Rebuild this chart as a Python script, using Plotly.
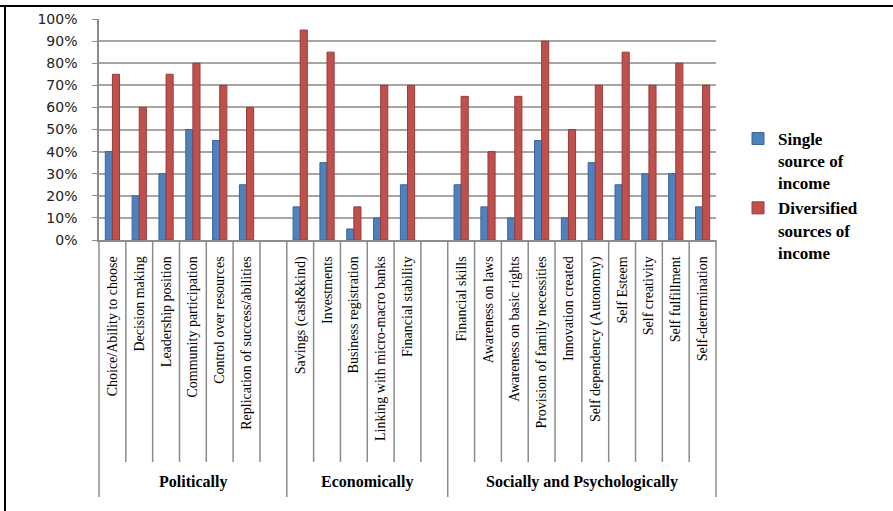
import plotly.graph_objects as go

# Empowerment indicators, grouped by dimension (blank slots separate the groups)
politically = ["Choice/Ability to choose", "Decision making", "Leadership position",
               "Community participation", "Control over resources",
               "Replication of success/abilities"]
economically = ["Savings (cash&kind)", "Investments", "Business registration",
                "Linking with micro-macro banks", "Financial stability"]
socially = ["Financial skills", "Awareness on laws", "Awareness on basic rights",
            "Provision of family necessities", "Innovation created",
            "Self dependency (Autonomy)", "Self Esteem", "Self creativity",
            "Self fulfillment", "Self-determination"]

single_pol = [40, 20, 30, 50, 45, 25]
diverse_pol = [75, 60, 75, 80, 70, 60]
single_eco = [15, 35, 5, 10, 25]
diverse_eco = [95, 85, 15, 70, 70]
single_soc = [25, 15, 10, 45, 10, 35, 25, 30, 30, 15]
diverse_soc = [65, 40, 65, 90, 50, 70, 85, 70, 80, 70]

group_names = ["Politically", "Economically", "Socially and Psychologically"]
y_ticks = [0, 10, 20, 30, 40, 50, 60, 70, 80, 90, 100]
y_tick_labels = ["0%", "10%", "20%", "30%", "40%", "50%", "60%", "70%", "80%",
                 "90%", "100%"]

categories = politically + [" "] + economically + ["  "] + socially
single = single_pol + [None] + single_eco + [None] + single_soc
diverse = diverse_pol + [None] + diverse_eco + [None] + diverse_soc
n = len(categories)

# Figure geometry (pixels)
W, H = 893, 511
L, R, T, B = 99, 716, 19, 240
pw, ph = R - L, B - T


def px_x(px):
    return (px - L) / pw


def px_y(py):
    return (B - py) / ph


fig = go.Figure()
fig.add_trace(go.Bar(
    x=categories, y=single, name="<b>Single<br>source of<br>income</b>",
    marker=dict(color="#4F81BD", line=dict(color="#3A659A", width=1)),
    legendgroup="a",
))
fig.add_trace(go.Bar(
    x=categories, y=diverse, name="<b>Diversified<br>sources of<br>income</b>",
    marker=dict(color="#C0504D", line=dict(color="#963C3A", width=1)),
    legendgroup="b",
))

shapes = []
# separators between categories; longer ones mark the group boundaries
group_edges = [0, len(politically) + 1, len(politically) + len(economically) + 2, n]
for i in range(n + 1):
    long_line = i in group_edges
    shapes.append(dict(
        type="line", xref="paper", yref="paper",
        x0=i / n, x1=i / n, y0=0, y1=px_y(497 if long_line else 462),
        line=dict(color="#8C8C8C", width=1.5),
    ))
# outer frame: top and left rules
shapes.append(dict(type="line", xref="paper", yref="paper",
                   x0=px_x(0), x1=px_x(W), y0=px_y(6), y1=px_y(6),
                   line=dict(color="black", width=2)))
shapes.append(dict(type="line", xref="paper", yref="paper",
                   x0=px_x(5), x1=px_x(5), y0=px_y(6), y1=px_y(H),
                   line=dict(color="black", width=2)))

annotations = []
for g, name in enumerate(group_names):
    xc = (group_edges[g] + group_edges[g + 1]) / 2 / n
    annotations.append(dict(
        text=f"<b>{name}</b>", x=xc, y=px_y(482), xref="paper", yref="paper",
        showarrow=False, xanchor="center", yanchor="middle",
        font=dict(family="Liberation Serif", size=16, color="black"),
    ))

fig.update_layout(
    width=W, height=H,
    margin=dict(l=L, r=W - R, t=T, b=H - B, pad=0),
    paper_bgcolor="white", plot_bgcolor="white",
    barmode="group", bargap=0.47, bargroupgap=0,
    showlegend=True,
    legend=dict(
        x=px_x(738), y=px_y(121), xanchor="left", yanchor="top",
        font=dict(family="Liberation Serif", size=17, color="black"),
        valign="top", tracegroupgap=0, itemwidth=30,
        bgcolor="rgba(0,0,0,0)",
    ),
    shapes=shapes,
    annotations=annotations,
)
fig.update_xaxes(
    type="category", categoryorder="array", categoryarray=categories,
    range=[-0.5, n - 0.5],
    tickangle=-90, ticks="", ticklabelstandoff=9,
    tickfont=dict(family="Liberation Serif", size=14, color="black"),
    showline=True, linecolor="#8C8C8C", linewidth=1.5,
    showgrid=False,
)
fig.update_yaxes(
    range=[0, 100], tickmode="array", tickvals=y_ticks, ticktext=y_tick_labels,
    ticks="outside", ticklen=5, tickcolor="#8C8C8C", ticklabelstandoff=12,
    tickfont=dict(family="DejaVu Sans", size=14, color="#222222"),
    showline=True, linecolor="#8C8C8C", linewidth=1.5,
    showgrid=True, gridcolor="#A6A6A6", gridwidth=2,
    zeroline=False,
)

fig.write_html("out.html")
